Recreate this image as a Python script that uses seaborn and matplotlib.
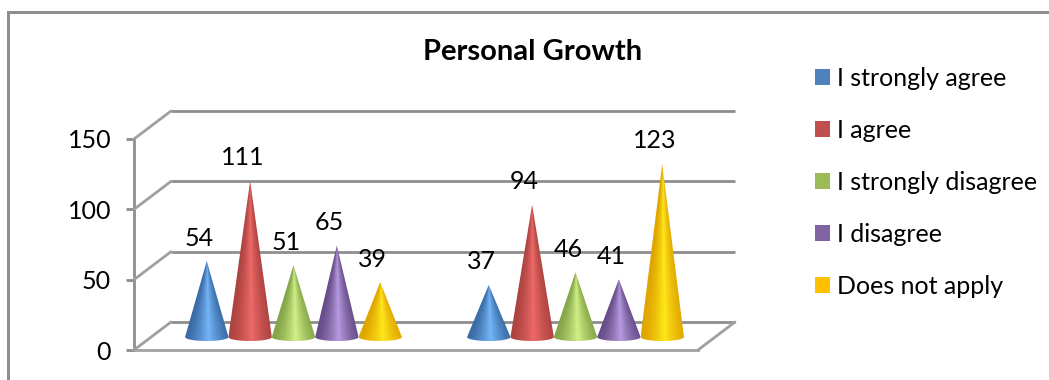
import numpy as np
import pandas as pd
import seaborn as sns
import matplotlib
matplotlib.use("Agg")
import matplotlib.pyplot as plt
from matplotlib.colors import to_rgb
from matplotlib.lines import Line2D
from matplotlib.patches import ConnectionPatch, Patch, Polygon

# Survey counts per response, one value for each of the two unnamed groups
groups = ["A", "B"]
responses = ["I strongly agree", "I agree", "I strongly disagree", "I disagree", "Does not apply"]
strongly_agree = [54, 37]
agree = [111, 94]
strongly_disagree = [51, 46]
disagree = [65, 41]
not_apply = [39, 123]
y_ticks = [0, 50, 100, 150]

key_colors = ["#4f81bd", "#c0504d", "#9bbb59", "#8064a2", "#ffc000"]
edge_colors = ["#3a6ba5", "#ad4340", "#84a548", "#664c88", "#e0a500"]
glow_colors = ["#74b6f8", "#ee6a68", "#d2f088", "#b79ae0", "#ffe81a"]

W, H = 1049, 380
GRAY = "#8e8e8e"
LW = 2.8 * 0.72

sns.set_theme(style="white")
plt.rcParams["font.family"] = ["Lato", "DejaVu Sans"]

df = pd.DataFrame({
    "group": groups * 5,
    "response": np.repeat(responses, 2),
    "count": strongly_agree + agree + strongly_disagree + disagree + not_apply,
})

fig = plt.figure(figsize=(W / 100, H / 100), dpi=100, facecolor="white")


def axes_px(left, right, top, bottom):
    """Axes placed by pixel edges, measured from the top-left of the figure."""
    return fig.add_axes([left / W, 1 - bottom / H, (right - left) / W, (bottom - top) / H])


# Outer frame: only the left and top edges show
fig.add_artist(Line2D([7.5 / W, 7.5 / W, 1], [0, 1 - 11.5 / H, 1 - 11.5 / H],
                      transform=fig.transFigure, color=GRAY, lw=3 * 0.72,
                      solid_joinstyle="miter"))

# Back wall of the 3-D box: gridlines
back = axes_px(171, 735, 111, 322)
back.set_xlim(-0.5, 1.5)
back.set_ylim(0, 150)
back.axis("off")
for tick in y_ticks:
    back.plot([-0.5, 1.5], [tick, tick], color=GRAY, lw=LW, clip_on=False,
              solid_capstyle="butt")

# Front plane: value axis with tick labels and the floor's front edge
front = axes_px(134, 698, 139, 350)
front.set_xlim(-0.5, 1.5)
front.set_ylim(0, 150)
front.patch.set_alpha(0)
sns.despine(ax=front, top=True, right=True)
front.spines["left"].set_color(GRAY)
front.spines["left"].set_linewidth(LW)
front.spines["bottom"].set_color("#a2a2a2")
front.spines["bottom"].set_linewidth(LW)
front.set_xticks([])
front.set_yticks(y_ticks)
front.tick_params(axis="y", left=True, length=5.5, width=LW, color=GRAY, pad=11,
                  labelsize=18, labelcolor="black")

# Slanted edges joining the front plane to the back wall
for tick in y_ticks:
    fig.add_artist(ConnectionPatch((-0.5, tick), (-0.5, tick), coordsA=front.transData,
                                   coordsB=back.transData, color="#a0a0a0", lw=LW))
fig.add_artist(ConnectionPatch((1.5, 0), (1.5, 0), coordsA=front.transData,
                               coordsB=back.transData, color="#a0a0a0", lw=LW))

# Middle plane: seaborn lays out the dodged bars, each one then becomes a cone
mid = axes_px(152.5, 716.5, 126, 345)
palette = dict(zip(responses, key_colors))
sns.barplot(data=df, x="group", y="count", hue="response", hue_order=responses,
            order=groups, palette=palette, width=0.769, gap=0, dodge=True,
            errorbar=None, legend=False, ax=mid)
y_unit = (337 - 126) / 150
mid.set_xlim(-0.5, 1.5)
mid.set_ylim(-(345 - 337) / y_unit, 150)
mid.set_autoscale_on(False)
mid.axis("off")
mid.patch.set_alpha(0)

rim = 4.0 / y_unit
for idx, container in enumerate(mid.containers):
    dark = np.array(to_rgb(edge_colors[idx]))
    glow = np.array(to_rgb(glow_colors[idx]))
    for bar in container:
        x0, w, h = bar.get_x(), bar.get_width(), bar.get_height()
        bar.set_visible(False)
        xc, r = x0 + w / 2, w / 2

        # Silhouette: apex plus the lower half of the base ellipse
        angles = np.linspace(0, np.pi, 40)
        outline = np.column_stack([xc + r * np.cos(angles), -rim * np.sin(angles)])
        outline = np.vstack([[xc, h], outline])
        shape = Polygon(outline, closed=True, transform=mid.transData, fc="none", ec="none")
        mid.add_patch(shape)

        # Shading follows the cone's surface: lines converge on the apex
        xs = np.linspace(xc - r, xc + r, 120)
        ys = np.linspace(-rim, h, 400)
        gx, gy = np.meshgrid(xs, ys)
        taper = np.clip(1 - gy / h, 0.004, None)
        u = np.clip((gx - xc) / (r * taper), -1.3, 1.3)
        light = np.clip(1 - np.abs(u - 0.08) / 1.05, 0, 1) ** 1.5
        rgb = dark[None, None, :] + (glow - dark)[None, None, :] * light[..., None]
        im = mid.imshow(rgb, extent=(xc - r, xc + r, -rim, h), origin="lower",
                        aspect="auto", interpolation="bilinear", zorder=3 + idx * 0.01)
        im.set_clip_path(shape)

        mid.annotate(f"{int(h)}", (xc, h), xytext=(-7.5 * 0.72, 23 * 0.72),
                     textcoords="offset points", ha="center", va="center",
                     fontsize=18, color="black", zorder=6)

mid.set_xlim(-0.5, 1.5)
mid.set_ylim(-(345 - 337) / y_unit, 150)

fig.text(533 / W, 1 - 52 / H, "Personal Growth", ha="center", va="center",
         fontsize=21, fontweight="bold", color="black")

handles = [Patch(facecolor=c, edgecolor="none", label=r) for c, r in zip(key_colors, responses)]
fig.legend(handles=handles, loc="upper left", bbox_to_anchor=(815 / W, 1 - 66.5 / H),
           frameon=False, fontsize=18, handlelength=0.6, handleheight=0.6,
           handletextpad=0.28, labelspacing=1.16, borderpad=0, borderaxespad=0,
           labelcolor="black")

fig.savefig("out.png", dpi=100, facecolor="white")
